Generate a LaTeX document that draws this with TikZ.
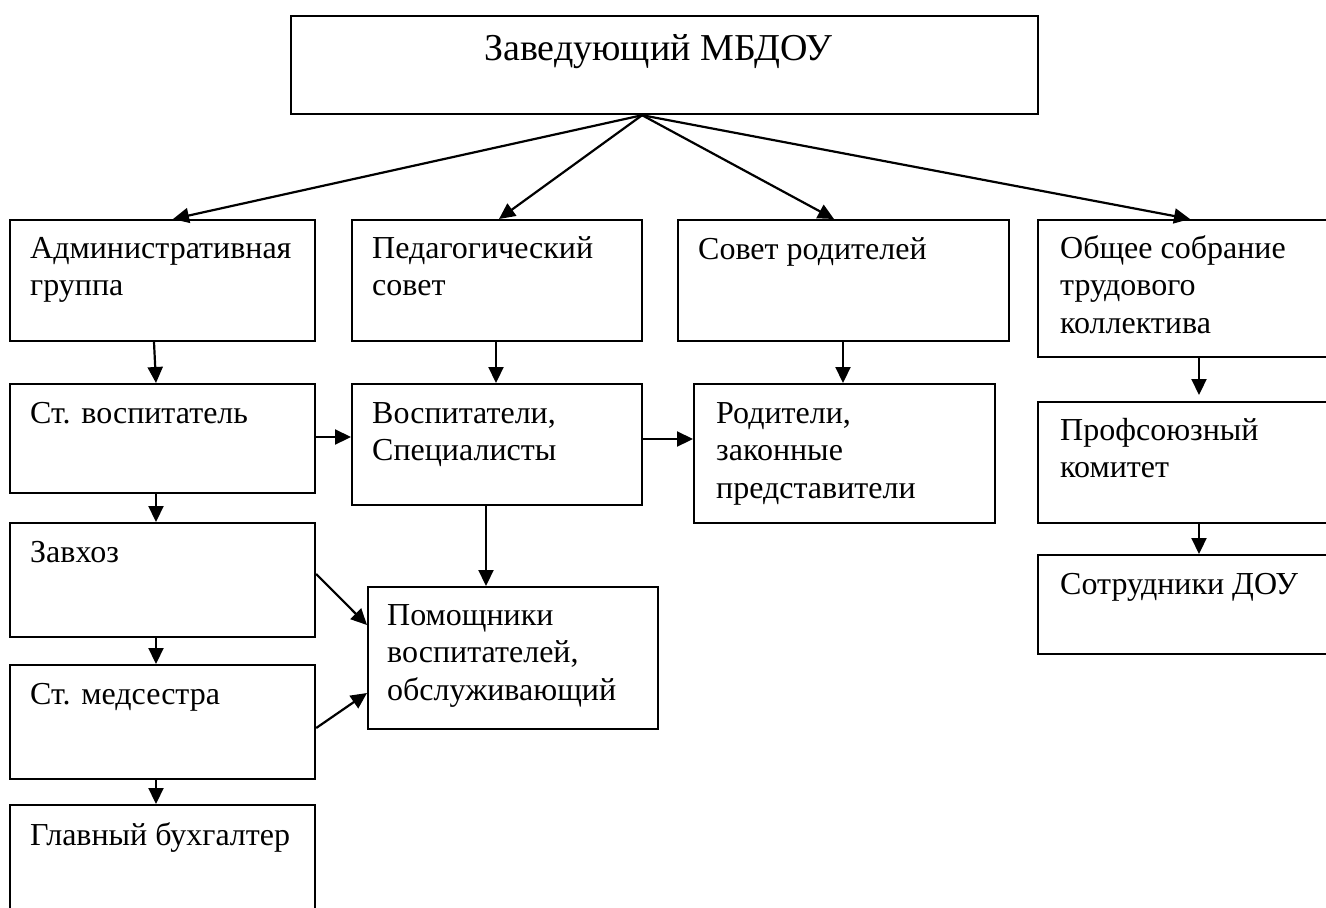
\documentclass[tikz,border=0pt]{standalone}
\usepackage{fontspec}
\setmainfont{Liberation Serif}
\usetikzlibrary{arrows.meta,calc}
\tikzset{
  box/.style={draw, line width=2.2pt, rectangle, inner sep=0pt, anchor=north west},
  txt/.style={anchor=north west, inner sep=0pt, align=left, font=\fontsize{32}{37.5}\selectfont},
  arr/.style={line width=2.2pt, -{Triangle[length=16pt,width=15pt]}},
}
\begin{document}
\begin{tikzpicture}[x=1pt,y=-1pt]
\useasboundingbox (0,0) rectangle (1326,908);
\clip (0,0) rectangle (1326,908);
% boxes
\node[box, minimum width=747pt, minimum height=98pt]  (top)  at (290,15) {};
\node[box, minimum width=305pt, minimum height=121pt] (adm)  at (9,219) {};
\node[box, minimum width=290pt, minimum height=121pt] (ped)  at (351,219) {};
\node[box, minimum width=331pt, minimum height=121pt] (sov)  at (677,219) {};
\node[box, minimum width=310pt, minimum height=137pt] (obs)  at (1037,219) {};
\node[box, minimum width=305pt, minimum height=109pt] (stv)  at (9,383) {};
\node[box, minimum width=290pt, minimum height=121pt] (vos)  at (351,383) {};
\node[box, minimum width=301pt, minimum height=139pt] (rod)  at (693,383) {};
\node[box, minimum width=310pt, minimum height=121pt] (prof) at (1037,401) {};
\node[box, minimum width=305pt, minimum height=114pt] (zav)  at (9,522) {};
\node[box, minimum width=305pt, minimum height=114pt] (med)  at (9,664) {};
\node[box, minimum width=305pt, minimum height=140pt] (gl)   at (9,804) {};
\node[box, minimum width=290pt, minimum height=142pt] (pom)  at (367,586) {};
\node[box, minimum width=310pt, minimum height=99pt]  (sot)  at (1037,554) {};
% texts (first baseline - 0.7*baselineskip)
\node[txt, font=\fontsize{38}{43}\selectfont] (topt) at (484,{60-30.1}) {\strut Заведующий МБДОУ};
\node[txt] (admt)  at (30,{258-26.25})   {\strut Административная\\группа};
\node[txt] (pedt)  at (372,{258-26.25})  {\strut Педагогический\\совет};
\node[txt] (sovt)  at (698,{259-26.25})  {\strut Совет родителей};
\node[txt] (obst)  at (1060,{258-26.25}) {\strut Общее собрание\\трудового\\коллектива};
\node[txt] (stvt)  at (30,{423-26.25})   {\strut Ст. воспитатель};
\node[txt] (vost)  at (372,{423-26.25})  {\strut Воспитатели,\\Специалисты};
\node[txt] (rodt)  at (716,{423-26.25})  {\strut Родители,\\законные\\представители};
\node[txt] (proft) at (1060,{440-26.25}) {\strut Профсоюзный\\комитет};
\node[txt] (zavt)  at (30,{562-26.25})   {\strut Завхоз};
\node[txt] (medt)  at (30,{704-26.25})   {\strut Ст. медсестра};
\node[txt] (glt)   at (30,{845-26.25})   {\strut Главный бухгалтер};
\node[txt] (pomt)  at (387,{625-26.25})  {\strut Помощники\\воспитателей,\\обслуживающий};
\node[txt] (sott)  at (1060,{594-26.25}) {\strut Сотрудники ДОУ};
% connectors
\coordinate (hub) at ($(top.south west)!0.47!(top.south east)$);
\draw[arr] (hub) -- ($(adm.north west)+(164,0)$);
\draw[arr] (hub) -- ($(ped.north west)+(148,0)$);
\draw[arr] (hub) -- ($(sov.north west)+(157,0)$);
\draw[arr] (hub) -- ($(obs.north west)+(153,0)$);
\draw[arr] ($(adm.south west)+(145,0)$) -- ($(stv.north west)+(147,0)$);
\draw[arr] ($(ped.south west)+(145,0)$) -- ($(vos.north west)+(145,0)$);
\draw[arr] ($(sov.south west)+(166,0)$) -- ($(rod.north west)+(150,0)$);
\draw[arr, shorten >=6pt] ($(obs.south west)+(162,0)$) -- ($(prof.north west)+(162,0)$);
\draw[arr] ($(stv.north east)+(0,54)$) -- ($(vos.north west)+(0,54)$);
\draw[arr] ($(vos.north east)+(0,56)$) -- ($(rod.north west)+(0,56)$);
\draw[arr] ($(stv.south west)+(147,0)$) -- ($(zav.north west)+(147,0)$);
\draw[arr] ($(vos.south west)+(135,0)$) -- ($(pom.north west)+(119,0)$);
\draw[arr] ($(zav.north east)+(0,52)$) -- ($(pom.north west)+(0,39)$);
\draw[arr] ($(zav.south west)+(147,0)$) -- ($(med.north west)+(147,0)$);
\draw[arr] ($(med.north east)+(0,64)$) -- ($(pom.north west)+(0,107)$);
\draw[arr] ($(med.south west)+(147,0)$) -- ($(gl.north west)+(147,0)$);
\draw[arr] ($(prof.south west)+(162,0)$) -- ($(sot.north west)+(162,0)$);
\end{tikzpicture}
\end{document}
